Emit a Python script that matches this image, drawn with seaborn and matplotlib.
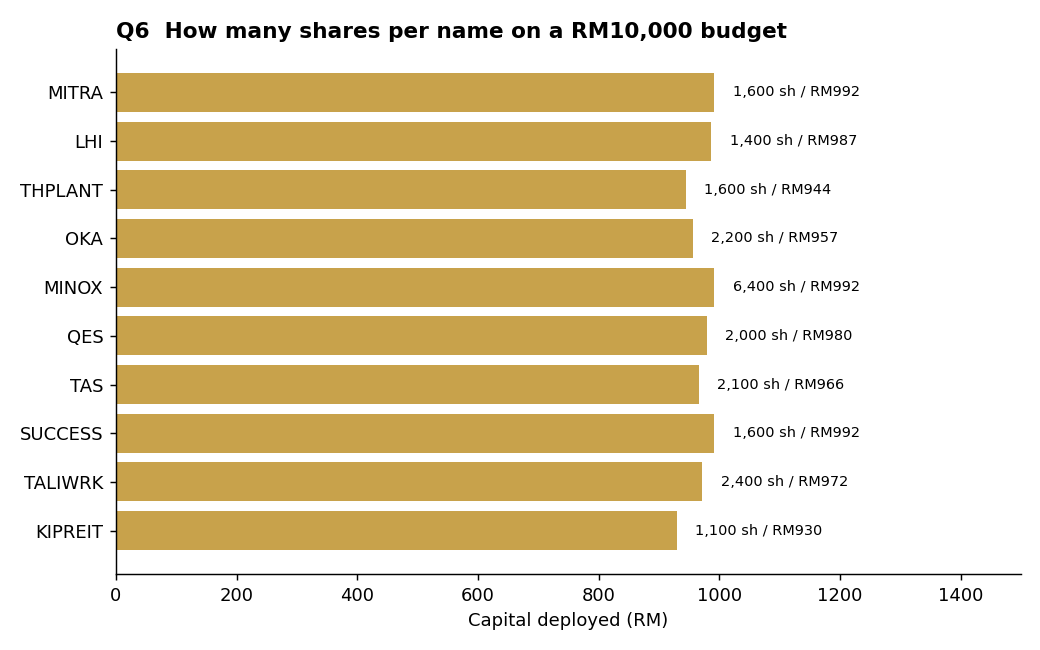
import matplotlib
matplotlib.use("Agg")
import matplotlib.pyplot as plt
import seaborn as sns
import pandas as pd

# data
names = ["MITRA", "LHI", "THPLANT", "OKA", "MINOX", "QES", "TAS", "SUCCESS", "TALIWRK", "KIPREIT"]
capital = [992, 987, 944, 957, 992, 980, 966, 992, 972, 930]
shares = [1600, 1400, 1600, 2200, 6400, 2000, 2100, 1600, 2400, 1100]

df = pd.DataFrame({"name": names, "capital": capital, "shares": shares})

fig, ax = plt.subplots(figsize=(8, 5), dpi=130)
fig.subplots_adjust(left=0.1115, right=0.9817, top=0.9246, bottom=0.1169)

sns.barplot(data=df, x="capital", y="name", color="#C8A24B", saturation=1,
            width=0.8, linewidth=0, ax=ax)

# share count / cost next to each bar
for i, row in df.iterrows():
    ax.text(row["capital"] + 30, i, f"{row['shares']:,} sh / RM{row['capital']}",
            va="center", ha="left", fontsize=8, color="black")

ax.set_xlim(0, 1500)
ax.set_ylim(len(names) - 0.11, -0.89)
ax.set_xlabel("Capital deployed (RM)")
ax.set_ylabel("")
ax.set_title("Q6  How many shares per name on a RM10,000 budget", loc="left",
             fontsize=12, fontweight="bold")
sns.despine(ax=ax)

fig.savefig("out.png", dpi=130)
